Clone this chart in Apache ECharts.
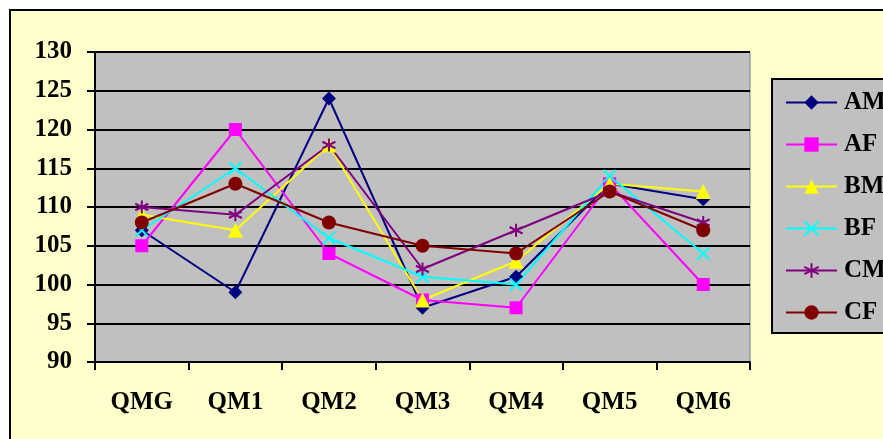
<!DOCTYPE html>
<html><head><meta charset="utf-8">
<style>html,body{margin:0;padding:0;background:#fff;}#c{width:883px;height:439px;}</style>
<script src="https://cdn.jsdelivr.net/npm/echarts@6/dist/echarts.min.js"></script>
</head><body><div id="c"></div>
<script>
const categories = ['QMG','QM1','QM2','QM3','QM4','QM5','QM6'];
const seriesNames = ['AM','AF','BM','BF','CM','CF'];
const AM = [107, 99, 124, 97, 101, 113, 111];
const AF = [105, 120, 104, 98, 97, 113, 100];
const BM = [109, 107, 118, 98, 103, 113, 112];
const BF = [107, 115, 106, 101, 100, 114, 104];
const CM = [110, 109, 118, 102, 107, 112, 108];
const CF = [108, 113, 108, 105, 104, 112, 107];
const yTicks = [90, 95, 100, 105, 110, 115, 120, 125, 130];

const font = 'Liberation Serif';
const crossPath = 'path://M0,0L10,10M10,0L0,10';
const starPath = 'path://M5,0L5,10M0,2.5L10,7.5M0,7.5L10,2.5';

const styles = {
  AM: {color:'#000080', symbol:'diamond', size:14, fill:'#000080', bw:0},
  AF: {color:'#FF00FF', symbol:'rect', size:13, fill:'#FF00FF', bw:0},
  BM: {color:'#FFFF00', symbol:'triangle', size:15, fill:'#FFFF00', bw:0},
  BF: {color:'#00FFFF', symbol:crossPath, size:12, fill:'none', bw:2},
  CM: {color:'#800080', symbol:starPath, size:13, fill:'none', bw:2},
  CF: {color:'#800000', symbol:'circle', size:14, fill:'#800000', bw:0}
};
const dataMap = {AM, AF, BM, BF, CM, CF};

const series = seriesNames.map(n => {
  const s = styles[n];
  return {
    name: n, type: 'line', data: dataMap[n],
    symbol: s.symbol, symbolSize: s.size, symbolKeepAspect: true,
    showAllSymbol: true,
    lineStyle: {color: s.color, width: 2},
    itemStyle: {color: s.fill === 'none' ? 'rgba(0,0,0,0)' : s.fill, borderColor: s.color, borderWidth: s.bw},
    emphasis: {disabled: true},
    animation: false
  };
});

const chart = echarts.init(document.getElementById('c'));
chart.setOption({
  animation: false,
  graphic: [{
    type: 'rect', z: -10, silent: true,
    shape: {x: 10, y: 10, width: 900, height: 460},
    style: {fill: '#FFFFCC', stroke: '#000', lineWidth: 2}
  }],
  grid: {
    left: 95, top: 52, right: 133, bottom: 77,
    show: true, backgroundColor: '#C0C0C0', borderColor: '#808080', borderWidth: 1
  },
  legend: {
    orient: 'vertical', left: 772, top: 79,
    backgroundColor: '#C0C0C0', borderColor: '#000', borderWidth: 2,
    padding: [11, 30, 8, 13],
    itemWidth: 51, itemHeight: 18, itemGap: 17,
    textStyle: {fontFamily: font, fontSize: 25, fontWeight: 'bold', color: '#000', padding: [0,0,0,2]},
    data: seriesNames
  },
  xAxis: {
    type: 'category', data: categories, boundaryGap: true,
    axisLine: {lineStyle: {color: '#000', width: 2}},
    axisTick: {show: true, alignWithLabel: false, length: 8, lineStyle: {color: '#000', width: 2}},
    axisLabel: {fontFamily: font, fontSize: 25, fontWeight: 'bold', color: '#000', margin: 28},
    splitLine: {show: false}
  },
  yAxis: {
    type: 'value', min: yTicks[0], max: yTicks[yTicks.length-1], interval: 5,
    axisLine: {show: true, lineStyle: {color: '#000', width: 2}},
    axisTick: {show: true, length: 8, lineStyle: {color: '#000', width: 2}},
    axisLabel: {fontFamily: font, fontSize: 25, fontWeight: 'bold', color: '#000', margin: 23},
    splitLine: {show: true, lineStyle: {color: '#000', width: 2}}
  },
  series: series
});
</script></body></html>
